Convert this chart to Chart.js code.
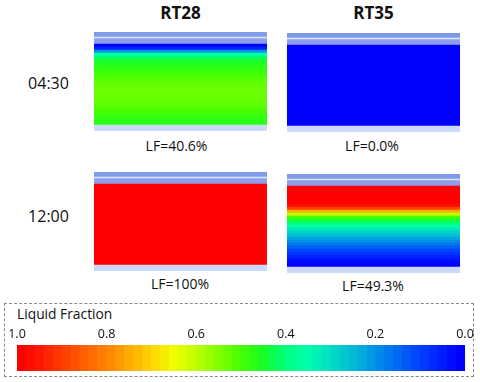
<!DOCTYPE html>
<html>
<head>
<meta charset="utf-8">
<script src="https://cdn.jsdelivr.net/npm/chart.js@4/dist/chart.umd.min.js"></script>
<style>
  html, body { margin: 0; padding: 0; background: #fff; }
  #page { position: relative; width: 480px; height: 382px; overflow: hidden; font-family: "Open Sans", sans-serif; color: #111; }
  #page canvas { position: absolute; }
  .lbl { position: absolute; line-height: 1; white-space: nowrap; transform: translateX(-50%); }
  #box { position: absolute; left: 4px; top: 303px; width: 468px; height: 72px; border: 1px dashed #8a8a8a; }
</style>
</head>
<body>
<div id="page">
  <div id="box"></div>
</div>
<script>
// materials (columns) and times (rows)
const materials = ['RT28', 'RT35'];
const times = ['04:30', '12:00'];
const lfText = [['LF=40.6%', 'LF=0.0%'], ['LF=100%', 'LF=49.3%']];

// liquid fraction profiles across the PCM layer, top -> bottom
const rt28_0430 = [0.0, 0.05, 0.2, 0.35, 0.41, 0.44, 0.46, 0.47, 0.48, 0.49, 0.5, 0.51, 0.52, 0.52,
  0.53, 0.53, 0.53, 0.53, 0.53, 0.52, 0.52, 0.51, 0.5, 0.49, 0.48, 0.47, 0.47];
const rt35_0430 = [0.0];
const rt28_1200 = [1.0];
const rt35_1200 = [1.0, 1.0, 1.0, 1.0, 1.0, 1.0, 0.98, 0.9, 0.75, 0.6, 0.5, 0.44, 0.4, 0.35, 0.31,
  0.28, 0.25, 0.22, 0.19, 0.16, 0.13, 0.1, 0.08, 0.05, 0.03, 0.01, 0.0];

const colorbarTicks = [1.0, 0.8, 0.6, 0.4, 0.2, 0.0];

// colour scale (value -> rgb)
const cmap = [
  [0.0, [0, 0, 255]], [0.1, [0, 70, 255]], [0.2, [0, 150, 228]], [0.25, [0, 190, 212]],
  [0.3, [0, 225, 192]], [0.35, [0, 255, 170]], [0.4, [0, 255, 120]], [0.45, [25, 255, 40]],
  [0.5, [70, 255, 0]], [0.55, [130, 255, 0]], [0.6, [190, 255, 0]], [0.65, [238, 255, 0]],
  [0.7, [255, 215, 0]], [0.75, [255, 175, 0]], [0.8, [255, 135, 0]], [0.85, [255, 100, 0]],
  [0.9, [255, 65, 0]], [0.95, [255, 30, 0]], [1.0, [255, 0, 0]]
];

function lfColor(v) {
  for (let i = 1; i < cmap.length; i++) {
    if (v <= cmap[i][0]) {
      const [a, ca] = cmap[i - 1], [b, cb] = cmap[i];
      const t = (v - a) / (b - a);
      const c = ca.map((x, k) => Math.round(x + (cb[k] - x) * t));
      return `rgb(${c[0]},${c[1]},${c[2]})`;
    }
  }
  return 'rgb(255,0,0)';
}

// wall build-up (bottom -> top), thickness in px units
const wall = {bottom: 6, field: 81, inner: 5.3, gap: 1.7, outer: 5};
const wallColors = {bottom: '#cad9fc', inner: '#8d9fec', gap: '#dfe6f9', outer: '#7e9ce9'};

const page = document.getElementById('page');

function addText(txt, cx, cy, size, bold) {
  const d = document.createElement('div');
  d.className = 'lbl';
  d.textContent = txt;
  d.style.left = cx + 'px';
  d.style.top = (cy - 0.53 * size) + 'px';
  d.style.fontSize = size + 'px';
  if (bold) d.style.fontWeight = 'bold';
  page.appendChild(d);
}

function addCanvas(x, y, w, h) {
  const c = document.createElement('canvas');
  c.width = w; c.height = h;
  c.style.left = x + 'px'; c.style.top = y + 'px';
  c.style.width = w + 'px'; c.style.height = h + 'px';
  page.appendChild(c);
  return c;
}

function panel(profile, x, y) {
  const total = wall.bottom + wall.field + wall.inner + wall.gap + wall.outer;
  const ds = [{data: [wall.bottom], backgroundColor: wallColors.bottom}];
  const h = wall.field / profile.length;
  profile.slice().reverse().forEach(v => ds.push({data: [h], backgroundColor: lfColor(v)}));
  ds.push({data: [wall.inner], backgroundColor: wallColors.inner});
  ds.push({data: [wall.gap], backgroundColor: wallColors.gap});
  ds.push({data: [wall.outer], backgroundColor: wallColors.outer});
  const cv = addCanvas(x, y, 173, total);
  new Chart(cv, {
    type: 'bar',
    data: {labels: [''], datasets: ds},
    options: {
      responsive: false, animation: false, devicePixelRatio: 1,
      layout: {padding: 0},
      datasets: {bar: {barPercentage: 1, categoryPercentage: 1, borderWidth: 0}},
      plugins: {legend: {display: false}, tooltip: {enabled: false}},
      scales: {
        x: {stacked: true, display: false},
        y: {stacked: true, display: false, min: 0, max: total}
      }
    }
  });
}

const colX = [94, 287];
const rowY = [[32, 32.5], [172, 174]];
const profiles = [[rt28_0430, rt35_0430], [rt28_1200, rt35_1200]];

profiles.forEach((row, r) => row.forEach((p, c) => panel(p, colX[c], Math.round(rowY[r][c]))));

addText(materials[0], 180.5, 12.7, 17, true);
addText(materials[1], 373.5, 12.7, 17, true);
addText(times[0], 48.5, 83, 16);
addText(times[1], 48.5, 216.7, 16);
addText(lfText[0][0], 176.5, 146.5, 14);
addText(lfText[0][1], 372, 146.2, 14);
addText(lfText[1][0], 180, 284.3, 14);
addText(lfText[1][1], 373, 286.7, 14);

const lf = document.createElement('div');
lf.className = 'lbl';
lf.style.transform = 'none';
lf.style.left = '17px';
lf.style.top = (314 - 0.53 * 13.8) + 'px';
lf.style.fontSize = '13.8px';
lf.textContent = 'Liquid Fraction';
page.appendChild(lf);

// colour bar
const levels = 50;
const barSets = [];
for (let i = 0; i < levels; i++) {
  barSets.push({data: [1 / levels], backgroundColor: lfColor(i / (levels - 1))});
}
const cb = addCanvas(0, 322, 480, 50);
new Chart(cb, {
  type: 'bar',
  data: {labels: [''], datasets: barSets},
  options: {
    indexAxis: 'y',
    responsive: false, animation: false, devicePixelRatio: 1,
    layout: {padding: {left: 17, right: 15, top: 2, bottom: 1}},
    datasets: {bar: {barPercentage: 1, categoryPercentage: 1, borderWidth: 0}},
    plugins: {legend: {display: false}, tooltip: {enabled: false}},
    scales: {
      x: {
        stacked: true, min: 0, max: 1, reverse: true, position: 'top',
        grid: {display: false, drawTicks: false}, border: {display: false},
        afterBuildTicks: s => { s.ticks = colorbarTicks.map(v => ({value: v})); },
        ticks: {
          padding: 3, color: '#111', maxRotation: 0,
          font: {family: 'Open Sans', size: 12.5},
          callback: v => Number(v).toFixed(1)
        }
      },
      y: {stacked: true, display: false}
    }
  }
});
</script>
</body>
</html>
